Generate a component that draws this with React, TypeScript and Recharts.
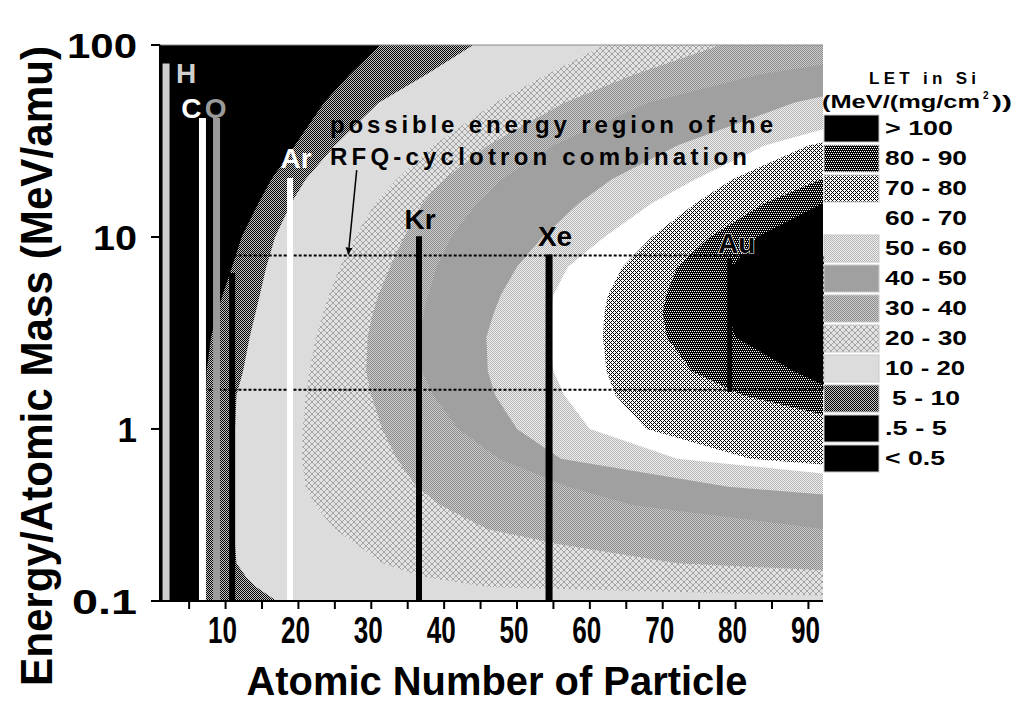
import React from "react";
import {
  ComposedChart,
  Area,
  XAxis,
  YAxis,
  CartesianGrid,
  ReferenceLine,
  ReferenceArea,
} from "recharts";

const FONT = '"Liberation Sans", Arial, Helvetica, sans-serif';

// energy rows (MeV/amu), top of the plot to bottom
const energies = [100, 70, 50, 30, 20, 15, 10, 7, 5, 4, 3, 2, 1.5, 1, 0.7, 0.5, 0.4, 0.3, 0.25, 0.2, 0.17, 0.15, 0.127];

// atomic number where LET in Si crosses each level, per energy row
const let5 = [31.2, 27, 23.5, 19.5, 16.3, 14.5, 12.2, 10.9, 9.6, 8.8, 8.0, 7.4, 7.3, 7.3, 7.3, 7.3, 7.3, 7.3, 7.3, 7.3, 7.3, 7.3, 7.3];
const let10 = [44, 37.5, 31, 25, 21, 19, 16.8, 15.6, 14.7, 14.1, 13.3, 12.4, 11.5, 11.3, 11.3, 11.3, 11.3, 11.3, 11.3, 11.5, 12.8, 14.2, 17];
const let20 = [62, 54, 47, 38.5, 33.5, 30.5, 27.8, 25.7, 24.2, 23.4, 22.4, 21.5, 21, 20.6, 20.5, 21, 22.3, 25, 28, 31.5, 37, 46, 120];
const let30 = [78, 66, 56.5, 46, 40, 37, 34.5, 32.6, 31, 30.2, 29.5, 29.3, 30, 31.5, 33.5, 36.2, 39.5, 46, 56, 72, 110, 140, 160];
const let40 = [110, 83, 68, 55, 48, 44.5, 41, 39, 37.8, 37.2, 36.6, 37, 38.5, 42, 47.5, 57, 66, 92.5, 130, 150, 160, 160, 160];
const let50 = [130, 105, 88, 72, 63, 58.5, 53.5, 50, 47.8, 46.8, 45.8, 46, 47, 50, 56, 79, 110, 150, 160, 160, 160, 160, 160];
const let60 = [150, 130, 105, 84, 74.5, 68.5, 62, 57, 55, 54.6, 54.5, 55, 56.5, 60, 72, 110, 150, 160, 160, 160, 160, 160, 160];
const let70 = [160, 150, 120, 90, 79.6, 74.5, 68.5, 64.5, 62.5, 62, 61.8, 62.3, 63.5, 67.8, 82, 130, 160, 160, 160, 160, 160, 160, 160];
const let80 = [160, 160, 160, 110, 91.8, 84, 76.5, 72, 70.5, 70, 70.6, 74, 81, 100, 140, 160, 160, 160, 160, 160, 160, 160, 160];
const let90 = [160, 160, 160, 160, 120, 92, 83, 79.5, 79, 79, 80, 88, 95, 130, 160, 160, 160, 160, 160, 160, 160, 160, 160];

const legendLabels = ["> 100", "80 - 90", "70 - 80", "60 - 70", "50 - 60", "40 - 50", "30 - 40", "20 - 30", "10 - 20", " 5 - 10", ".5 - 5", "< 0.5"];

// ion tracks: name, Z position, energy span
const ionNames = ["H", "C", "O", "", "Ar", "Kr", "Xe", "Au"];
const ionZ = [1.83, 6.83, 8.76, 10.9, 18.85, 36.55, 54.4, 79.2];
const ionTopE = [80, 41.7, 41.7, 6.5, 20.3, 10.1, 8.1, 7.7];
const ionBottomE = [0.127, 0.127, 0.127, 0.127, 0.127, 0.127, 0.127, 1.56];

// RFQ-cyclotron window
const windowZ = [7, 92];
const windowE = [1.6, 8];
const arrowFrom = { z: 28.0, e: 22.3 };
const arrowTo = { z: 26.85, e: 8.1 };

const xTicks = [5, 10, 15, 20, 25, 30, 35, 40, 45, 50, 55, 60, 65, 70, 75, 80, 85, 90];
const yTicks = [100, 10, 1, 0.127];

const rows = energies.map((e, i) => ({
  e,
  l5: let5[i],
  l10: let10[i],
  l20: let20[i],
  l30: let30[i],
  l40: let40[i],
  l50: let50[i],
  l60: let60[i],
  l70: let70[i],
  l80: let80[i],
  l90: let90[i],
}));

// pixel tiles for the dithered fills
const TILES: Record<string, { rows: string[]; colors: Record<string, string> }> = {
  d5: { rows: ["#.", ".#"], colors: { "#": "#000", ".": "#c4c4c4" } },
  d80: { rows: ["####", "#.#.", "####", ".#.#"], colors: { "#": "#000", ".": "#fff" } },
  x70: { rows: ["#...", ".#.#", "..#.", ".#.#"], colors: { "#": "#000", ".": "#fff" } },
  p50: { rows: ["#.", ".#"], colors: { "#": "#b4b4b4", ".": "#f0f0f0" } },
  g30: { rows: ["#.", ".#"], colors: { "#": "#8c8c8c", ".": "#cccccc" } },
  x20: {
    rows: ["#....#", ".#..#.", "..##..", "..##..", ".#..#.", "#....#"],
    colors: { "#": "#a4a4a4", ".": "#e2e2e2" },
  },
};

const Tiles = ({ prefix }: { prefix: string }) => (
  <>
    {Object.entries(TILES).map(([id, t]) => (
      <pattern
        key={id}
        id={prefix + id}
        width={t.rows[0].length}
        height={t.rows.length}
        patternUnits="userSpaceOnUse"
      >
        {t.rows.flatMap((r, j) =>
          r.split("").map((c, i) => (
            <rect key={i + "-" + j} x={i} y={j} width={1} height={1} fill={t.colors[c]} shapeRendering="crispEdges" />
          ))
        )}
      </pattern>
    ))}
  </>
);

const fillFor = (prefix: string) => ({
  l5: `url(#${prefix}d5)`,
  l10: "#dcdcdc",
  l20: `url(#${prefix}x20)`,
  l30: `url(#${prefix}g30)`,
  l40: "#a0a0a0",
  l50: `url(#${prefix}p50)`,
  l60: "#ffffff",
  l70: `url(#${prefix}x70)`,
  l80: `url(#${prefix}d80)`,
  l90: "#000000",
});

const BAND_KEYS = ["l5", "l10", "l20", "l30", "l40", "l50", "l60", "l70", "l80", "l90"];
const LEGEND_KEYS = ["l90", "l80", "l70", "l60", "l50", "l40", "l30", "l20", "l10", "l5", "black", "black"];
const LEGEND_LEN = [68, 82, 82, 82, 82, 82, 82, 82, 80, 68, 62, 60];

const ION_STYLE: Record<string, { color: string; width: number; dx: number; dy: number; halo?: boolean }> = {
  H: { color: "#cfcfcf", width: 7, dx: 20, dy: 19 },
  C: { color: "#ffffff", width: 7, dx: -11, dy: 0 },
  O: { color: "#9a9a9a", width: 7, dx: -1, dy: 0 },
  "": { color: "#000000", width: 6, dx: 0, dy: 0 },
  Ar: { color: "#ffffff", width: 6, dx: 6, dy: -10 },
  Kr: { color: "#000000", width: 6, dx: 1, dy: -7 },
  Xe: { color: "#000000", width: 7, dx: 6, dy: -9 },
  Au: { color: "#000000", width: 5, dx: 7, dy: -6, halo: true },
};

const ionLabel = (name: string, color: string, dx: number, dy: number, halo?: boolean) => (props: any) => {
  const vb = props.viewBox || props;
  if (!name || !vb) return null;
  return (
    <text
      x={vb.x + (vb.width || 0) / 2 + dx}
      y={vb.y + dy}
      textAnchor="middle"
      fill={color}
      stroke={halo ? "#ffffff" : "none"}
      strokeWidth={halo ? 1.2 : 0}
      paintOrder="stroke"
      fontFamily={FONT}
      fontWeight="bold"
      fontSize={28}
    >
      {name}
    </text>
  );
};

const YTick = ({ x, y, payload }: any) => {
  const v = payload.value;
  const label = v < 0.2 ? "0.1" : String(v);
  const len: Record<string, number | undefined> = { "100": 70, "10": 44, "0.1": 65 };
  return (
    <text
      x={x - 12}
      y={y + 13}
      textAnchor="end"
      fill="#000"
      fontFamily={FONT}
      fontWeight="bold"
      fontSize={35}
      textLength={len[label]}
      lengthAdjust="spacingAndGlyphs"
    >
      {label}
    </text>
  );
};

const XTick = ({ x, y, payload }: any) => {
  if (payload.value % 10 !== 0) return null;
  return (
    <text
      x={x - 3}
      y={y + 32}
      textAnchor="middle"
      fill="#000"
      fontFamily={FONT}
      fontWeight="bold"
      fontSize={36}
      textLength={29}
      lengthAdjust="spacingAndGlyphs"
    >
      {payload.value}
    </text>
  );
};

export default function App() {
  const fills = fillFor("c-");
  const legendFills = { ...fillFor("g-"), black: "#000000" } as Record<string, string>;

  return (
    <div style={{ position: "absolute", left: 0, top: 0, width: 1019, height: 710, background: "#fff" }}>
      <div style={{ position: "absolute", left: 0, top: 0 }}>
        <ComposedChart
          width={1019}
          height={710}
          layout="vertical"
          data={rows}
          margin={{ top: 45, right: 196, bottom: 79, left: 100 }}
        >
          <defs>
            <Tiles prefix="c-" />
            <marker
              id="arrowHead"
              viewBox="0 0 10 10"
              refX="10"
              refY="5"
              markerWidth="7"
              markerHeight="11"
              markerUnits="userSpaceOnUse"
              orient="auto"
            >
              <path d="M0,0 L10,5 L0,10 z" fill="#000" />
            </marker>
          </defs>
          <CartesianGrid fill="#000" fillOpacity={1} horizontal={false} vertical={false} />
          <XAxis
            type="number"
            domain={[1, 92]}
            allowDataOverflow
            ticks={xTicks}
            interval={0}
            height={30}
            tickSize={8}
            axisLine={{ stroke: "#000", strokeWidth: 2 }}
            tickLine={{ stroke: "#000", strokeWidth: 2 }}
            tick={<XTick />}
          />
          <YAxis
            type="number"
            dataKey="e"
            scale="log"
            domain={[0.127, 100]}
            allowDataOverflow
            reversed
            ticks={yTicks}
            interval={0}
            width={60}
            tickSize={9}
            axisLine={{ stroke: "#000", strokeWidth: 2 }}
            tickLine={{ stroke: "#000", strokeWidth: 2 }}
            tick={<YTick />}
          />
          {BAND_KEYS.map((k) => (
            <Area
              key={k}
              dataKey={k}
              type="linear"
              baseValue="dataMax"
              fill={(fills as any)[k]}
              fillOpacity={1}
              stroke="none"
              dot={false}
              activeDot={false}
              isAnimationActive={false}
            />
          ))}
          <ReferenceLine y={100} stroke="#888" strokeWidth={1} />
          {ionNames.map((name, i) => {
            const s = ION_STYLE[name];
            return (
              <ReferenceLine
                key={"ion" + i}
                segment={[
                  { x: ionZ[i], y: ionTopE[i] },
                  { x: ionZ[i], y: ionBottomE[i] },
                ]}
                stroke={s.color}
                strokeWidth={s.width}
                ifOverflow="visible"
                label={ionLabel(name, s.color, s.dx, s.dy, s.halo)}
              />
            );
          })}
          <ReferenceArea
            x1={windowZ[0]}
            x2={windowZ[1]}
            y1={windowE[0]}
            y2={windowE[1]}
            fill="none"
            stroke="#000"
            strokeWidth={2}
            strokeDasharray="3 2"
            ifOverflow="visible"
          />
          <ReferenceLine
            segment={[
              { x: arrowFrom.z, y: arrowFrom.e },
              { x: arrowTo.z, y: arrowTo.e },
            ]}
            stroke="#000"
            strokeWidth={1.5}
            markerEnd="url(#arrowHead)"
            ifOverflow="visible"
          />
        </ComposedChart>
      </div>
      <svg
        width={1019}
        height={710}
        style={{ position: "absolute", left: 0, top: 0, pointerEvents: "none" }}
        fontFamily={FONT}
        fontWeight="bold"
      >
        <defs>
          <Tiles prefix="g-" />
        </defs>
        <text
          transform="translate(52,366) rotate(-90)"
          textAnchor="middle"
          fontSize={44}
          textLength={640}
          lengthAdjust="spacingAndGlyphs"
          fill="#000"
        >
          Energy/Atomic Mass (MeV/amu)
        </text>
        <text x={497} y={695} textAnchor="middle" fontSize={40} textLength={501} lengthAdjust="spacingAndGlyphs" fill="#000">
          Atomic Number of Particle
        </text>
        <text x={330} y={133} fontSize={24} textLength={443} lengthAdjust="spacing" fill="#000">
          possible energy region of the
        </text>
        <text x={330} y={165} fontSize={24} textLength={417} lengthAdjust="spacing" fill="#000">
          RFQ-cyclotron combination
        </text>

        <text x={869} y={84} fontSize={17} textLength={107} lengthAdjust="spacing" fill="#000">
          LET in Si
        </text>
        <text x={822} y={108} fontSize={18} textLength={158} lengthAdjust="spacingAndGlyphs" fill="#000">
          (MeV/(mg/cm
        </text>
        <text x={983} y={99} fontSize={10} fill="#000">
          2
        </text>
        <text x={992} y={108} fontSize={18} textLength={20} lengthAdjust="spacingAndGlyphs" fill="#000">
          ))
        </text>
        {legendLabels.map((lab, i) => {
          const top = 115 + i * 30;
          return (
            <g key={lab}>
              <rect
                x={824}
                y={top}
                width={55}
                height={27}
                fill={legendFills[LEGEND_KEYS[i]]}
                stroke={LEGEND_KEYS[i] === "l60" ? "none" : "#c8c8c8"}
                strokeWidth={1}
              />
              <text
                x={lab.startsWith(" ") ? 892 : 885}
                y={top + 20}
                fontSize={21}
                textLength={LEGEND_LEN[i]}
                lengthAdjust="spacingAndGlyphs"
                fill="#000"
              >
                {lab.trim()}
              </text>
            </g>
          );
        })}
      </svg>
    </div>
  );
}
